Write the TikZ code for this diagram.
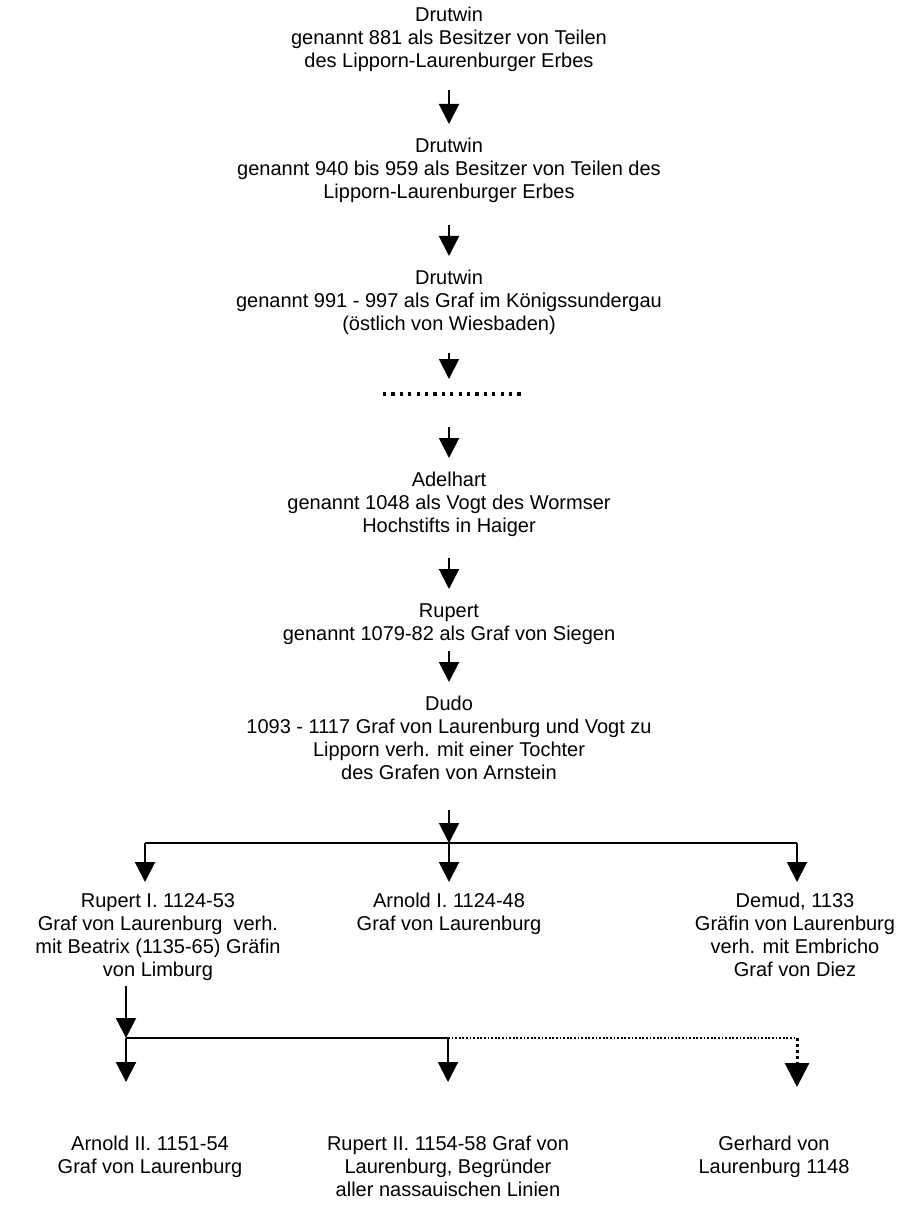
\documentclass[tikz,border=0pt]{standalone}
\usepackage{fontspec}
\setmainfont{Liberation Sans}
\usetikzlibrary{arrows.meta}
\tikzset{
    person/.style={
           align=center,
           anchor=north,
           inner sep=0pt,
           font=\fontsize{15}{17.25}\selectfont,
           execute at begin node=\strut,
           execute at end node=\strut,
           },
    arr/.style={
           draw=black, line width=1.5pt,
           -{Triangle[width=15pt,length=15pt]},
           },
    branch/.style={
           draw=black, line width=1pt,
           },
    dotbranch/.style={
           draw=black, line width=1.3pt,
           dash pattern=on 1.3pt off 1.4pt,
           },
    dotarr/.style={
           draw=black, line width=2.25pt,
           dash pattern=on 2.25pt off 2.25pt,
           -{Triangle[width=18pt,length=18pt]},
           },
    gapline/.style={
           draw=black, line width=2.4pt,
           dash pattern=on 2.4pt off 3.9pt,
           },
}
\begin{document}
\begin{tikzpicture}[x=0.75pt,y=-0.75pt]
	\useasboundingbox (0,0) rectangle (899,1223);
	% line of descent
	\node[person] (n1) at (449,7) {Drutwin\\genannt 881 als Besitzer von Teilen\\des Lipporn-Laurenburger Erbes};
	\node[person] (n2) at (449,138) {Drutwin\\genannt 940 bis 959 als Besitzer von Teilen des\\Lipporn-Laurenburger Erbes};
	\node[person] (n3) at (449,270) {Drutwin\\genannt 991 - 997 als Graf im K\"onigssundergau\\(\"ostlich von Wiesbaden)};
	\coordinate (gap) at (449,394);
	\node[person] (n4) at (449,472) {Adelhart\\genannt 1048 als Vogt des Wormser\\Hochstifts in Haiger};
	\node[person] (n5) at (449,603) {Rupert\\genannt 1079-82 als Graf von Siegen};
	\node[person] (n6) at (449,696) {Dudo\\1093 - 1117 Graf von Laurenburg und Vogt zu\\Lipporn verh. mit einer Tochter\\des Grafen von Arnstein};
	% children
	\node[person] (c1) at (158,893) {Rupert I. 1124-53\\Graf von Laurenburg~ verh.\\mit Beatrix (1135-65) Gr\"afin\\von Limburg};
	\node[person] (c2) at (449,893) {Arnold I. 1124-48\\Graf von Laurenburg};
	\node[person] (c3) at (795,893) {Demud, 1133\\Gr\"afin von Laurenburg\\verh. mit Embricho\\Graf von Diez};
	% grandchildren
	\node[person] (g1) at (150,1136) {Arnold II. 1151-54\\Graf von Laurenburg};
	\node[person] (g2) at (448,1136) {Rupert II. 1154-58 Graf von\\Laurenburg, Begr\"under\\aller nassauischen Linien};
	\node[person] (g3) at (774,1136) {Gerhard von\\Laurenburg 1148};

	\coordinate (b1) at (449,843);
	\coordinate (b1l) at (145,843);
	\coordinate (b1r) at (797,843);
	\coordinate (b2l) at (126,1038);
	\coordinate (b2m) at (448,1038);
	\coordinate (b2r) at (797,1038);

	\draw[gapline] (383,394) -- (525,394);

	\draw[arr, shorten <=11.25pt, shorten >=10.5pt] (n1) -- (n2);
	\draw[arr, shorten <=14pt, shorten >=10.5pt] (n2) -- (n3);
	\draw[arr, shorten <=11.25pt, shorten >=11.25pt] (n3) -- (gap);
	\draw[arr, shorten <=24.75pt, shorten >=10.5pt] (gap) -- (n4);
	\draw[arr, shorten <=13.5pt, shorten >=10.5pt] (n4) -- (n5);
	\draw[arr, shorten <=3pt, shorten >=10.5pt] (n5) -- (n6);

	\draw[branch] (b1l) -- (b1r);
	\draw[arr, shorten <=17.25pt] (n6) -- (b1);
	\draw[arr, shorten >=8.25pt] (b1l) -- (b1l |- c1.north);
	\draw[arr, shorten >=8.25pt] (b1) -- (c2);
	\draw[arr, shorten >=8.25pt] (b1r) -- (b1r |- c3.north);

	\draw[branch] (b2l) -- (b2m);
	\draw[dotbranch] (b2m) -- (b2r);
	\draw[arr, shorten <=2.25pt] (c1.south -| b2l) -- (b2l);
	\draw[arr, shorten >=40.5pt] (b2l) -- (b2l |- g1.north);
	\draw[arr, shorten >=40.5pt] (b2m) -- (g2);
	\draw[dotarr, shorten >=36.75pt] (b2r) -- (b2r |- g3.north);
\end{tikzpicture}
\end{document}
